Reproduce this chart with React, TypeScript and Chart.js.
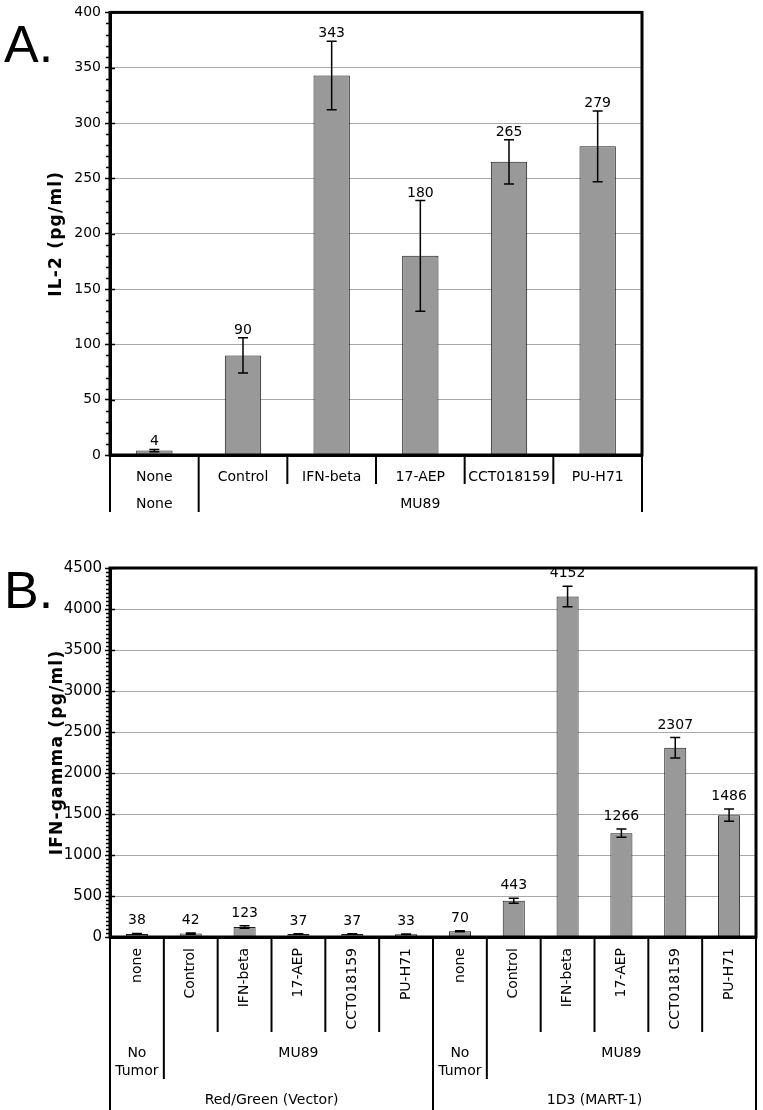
import React, { useEffect, useRef } from "react";
import { Chart, registerables } from "chart.js";

Chart.register(...registerables);

// ---------- Panel A data ----------
const il2Categories = ["None", "Control", "IFN-beta", "17-AEP", "CCT018159", "PU-H71"];
const il2Values = [4, 90, 343, 180, 265, 279];
const il2Errors = [1, 16, 31, 50, 20, 32];
const il2TumorLabels = ["None", "MU89"];
const il2TumorSpans = [1, 5];
const il2YTicks = { min: 0, max: 400, step: 50, minor: 10 };

// ---------- Panel B data ----------
const ifnCategories = [
  "none", "Control", "IFN-beta", "17-AEP", "CCT018159", "PU-H71",
  "none", "Control", "IFN-beta", "17-AEP", "CCT018159", "PU-H71",
];
const ifnValues = [38, 42, 123, 37, 37, 33, 70, 443, 4152, 1266, 2307, 1486];
const ifnErrors = [5, 8, 15, 4, 4, 3, 5, 30, 125, 50, 125, 75];
const ifnTumorLabels = ["No\nTumor", "MU89", "No\nTumor", "MU89"];
const ifnTumorSpans = [1, 5, 1, 5];
const ifnEffectorLabels = ["Red/Green (Vector)", "1D3 (MART-1)"];
const ifnEffectorSpans = [6, 6];
const ifnYTicks = { min: 0, max: 4500, step: 500, minor: 50 };

const FONT = "'DejaVu Sans', Verdana, sans-serif";

type Spec = {
  width: number;
  height: number;
  plotTop: number;
  plotBottom: number;
  plotRight: number;
  axisWidth: number;
  labels: string[];
  values: number[];
  errors: number[];
  ticks: { min: number; max: number; step: number; minor: number };
  tickFont: number;
  tickPad: number;
  yTitle: string;
  yTitleX: number;
  panel: string;
  panelBaseline: number;
  labelGap: number;
  capHalf: number;
  drawTable: (chart: any, ctx: CanvasRenderingContext2D) => void;
};

function cumulative(spans: number[]): number[] {
  const out = [0];
  spans.forEach((s) => out.push(out[out.length - 1] + s));
  return out;
}

function vline(ctx: CanvasRenderingContext2D, x: number, y0: number, y1: number) {
  ctx.beginPath();
  ctx.moveTo(x, y0);
  ctx.lineTo(x, y1);
  ctx.stroke();
}

function drawTableA(chart: any, ctx: CanvasRenderingContext2D) {
  const area = chart.chartArea;
  const n = il2Categories.length;
  const colW = (area.right - area.left) / n;
  const groupB = cumulative(il2TumorSpans);
  ctx.save();
  ctx.strokeStyle = "#000";
  ctx.lineWidth = 2;
  for (let i = 0; i <= n; i++) {
    const x = area.left + i * colW;
    const full = groupB.includes(i);
    vline(ctx, x, area.bottom, full ? 512 : 484);
  }
  ctx.fillStyle = "#000";
  ctx.font = `14px ${FONT}`;
  ctx.textAlign = "center";
  ctx.textBaseline = "alphabetic";
  il2Categories.forEach((c, i) => {
    ctx.fillText(c, area.left + (i + 0.5) * colW, 481);
  });
  il2TumorLabels.forEach((t, g) => {
    const cx = area.left + ((groupB[g] + groupB[g + 1]) / 2) * colW;
    ctx.fillText(t, cx, 508);
  });
  ctx.restore();
}

function drawTableB(chart: any, ctx: CanvasRenderingContext2D) {
  const area = chart.chartArea;
  const n = ifnCategories.length;
  const colW = (area.right - area.left) / n;
  const tumorB = cumulative(ifnTumorSpans);
  const effB = cumulative(ifnEffectorSpans);
  const H = chart.height;
  ctx.save();
  ctx.strokeStyle = "#000";
  ctx.lineWidth = 2;
  for (let i = 0; i <= n; i++) {
    const x = area.left + i * colW;
    let end = 512;
    if (effB.includes(i)) end = H;
    else if (tumorB.includes(i)) end = 559;
    vline(ctx, x, area.bottom, end);
  }
  ctx.fillStyle = "#000";
  ctx.font = `14px ${FONT}`;
  // rotated category labels
  ifnCategories.forEach((c, i) => {
    ctx.save();
    ctx.translate(area.left + (i + 0.5) * colW, 428);
    ctx.rotate(-Math.PI / 2);
    ctx.textAlign = "right";
    ctx.textBaseline = "middle";
    ctx.fillText(c, 0, 0);
    ctx.restore();
  });
  ctx.textAlign = "center";
  ctx.textBaseline = "middle";
  ifnTumorLabels.forEach((t, g) => {
    const cx = area.left + ((tumorB[g] + tumorB[g + 1]) / 2) * colW;
    t.split("\n").forEach((line, k) => ctx.fillText(line, cx, 533 + k * 18));
  });
  ifnEffectorLabels.forEach((t, g) => {
    const cx = area.left + ((effB[g] + effB[g + 1]) / 2) * colW;
    ctx.fillText(t, cx, 580);
  });
  ctx.restore();
}

function buildChart(canvas: HTMLCanvasElement, spec: Spec) {
  const deco = {
    id: "deco-" + spec.panel,
    afterDatasetsDraw(chart: any) {
      const ctx: CanvasRenderingContext2D = chart.ctx;
      const y = chart.scales.y;
      const meta = chart.getDatasetMeta(0);
      ctx.save();
      ctx.strokeStyle = "#000";
      ctx.lineWidth = 1.5;
      ctx.fillStyle = "#000";
      ctx.font = `14px ${FONT}`;
      ctx.textAlign = "center";
      ctx.textBaseline = "alphabetic";
      spec.values.forEach((v, i) => {
        const x = meta.data[i].x;
        const e = spec.errors[i];
        const yt = y.getPixelForValue(v + e);
        const yb = y.getPixelForValue(Math.max(0, v - e));
        ctx.beginPath();
        ctx.moveTo(x, yt);
        ctx.lineTo(x, yb);
        ctx.moveTo(x - spec.capHalf, yt);
        ctx.lineTo(x + spec.capHalf, yt);
        ctx.moveTo(x - spec.capHalf, yb);
        ctx.lineTo(x + spec.capHalf, yb);
        ctx.stroke();
        ctx.fillText(String(v), x, yt - spec.labelGap);
      });
      ctx.restore();
    },
    afterDraw(chart: any) {
      const ctx: CanvasRenderingContext2D = chart.ctx;
      const area = chart.chartArea;
      const y = chart.scales.y;
      ctx.save();
      // frame
      ctx.strokeStyle = "#000";
      ctx.lineWidth = 3;
      ctx.strokeRect(area.left, area.top, area.right - area.left, area.bottom - area.top);
      // minor and inner major ticks
      ctx.lineWidth = 1.5;
      const t = spec.ticks;
      for (let v = t.min; v <= t.max + 1e-9; v += t.minor) {
        const py = Math.round(y.getPixelForValue(v)) + 0.5;
        const major = Math.abs(v / t.step - Math.round(v / t.step)) < 1e-6;
        ctx.beginPath();
        if (major) {
          ctx.moveTo(area.left, py);
          ctx.lineTo(area.left + 5, py);
        } else {
          ctx.moveTo(area.left - 4, py);
          ctx.lineTo(area.left, py);
        }
        ctx.stroke();
      }
      // y title
      ctx.fillStyle = "#000";
      ctx.save();
      ctx.translate(spec.yTitleX, (area.top + area.bottom) / 2);
      ctx.rotate(-Math.PI / 2);
      ctx.font = `bold 17px ${FONT}`;
      (ctx as any).letterSpacing = "1.2px";
      ctx.textAlign = "center";
      ctx.textBaseline = "middle";
      ctx.fillText(spec.yTitle, 0, 0);
      ctx.restore();
      // panel letter
      ctx.font = `52px 'Liberation Sans', Arial, sans-serif`;
      ctx.textAlign = "left";
      ctx.textBaseline = "alphabetic";
      ctx.fillText(spec.panel, 4, spec.panelBaseline);
      // category table
      spec.drawTable(chart, ctx);
      ctx.restore();
    },
  };

  return new Chart(canvas, {
    type: "bar",
    data: {
      labels: spec.labels,
      datasets: [
        {
          data: spec.values,
          backgroundColor: "#999999",
          borderColor: "#1a1a1a",
          borderWidth: 1,
          barPercentage: 0.41,
          categoryPercentage: 1,
        },
      ],
    },
    options: {
      animation: false,
      responsive: false,
      devicePixelRatio: 1,
      layout: {
        padding: { top: spec.plotTop, right: spec.width - spec.plotRight, left: 0, bottom: 0 },
      },
      plugins: {
        legend: { display: false },
        tooltip: { enabled: false },
        title: { display: false },
      },
      scales: {
        x: {
          grid: { display: false, drawTicks: false },
          ticks: { display: false },
          border: { display: true, color: "#000", width: 3 },
          afterFit: (s: any) => {
            s.height = spec.height - spec.plotBottom;
          },
        },
        y: {
          min: spec.ticks.min,
          max: spec.ticks.max,
          ticks: {
            stepSize: spec.ticks.step,
            color: "#000",
            font: { family: FONT, size: spec.tickFont },
            padding: spec.tickPad,
            callback: (v: any) => String(v),
          },
          grid: {
            color: "#a8a8a8",
            lineWidth: 1,
            tickColor: "#000",
            tickWidth: 1.5,
            tickLength: 5,
          },
          border: { color: "#000", width: 3 },
          afterFit: (s: any) => {
            s.width = spec.axisWidth;
          },
        },
      },
    },
    plugins: [deco],
  } as any);
}

const specA: Spec = {
  width: 763,
  height: 520,
  plotTop: 10,
  plotBottom: 455,
  plotRight: 642,
  axisWidth: 110,
  labels: il2Categories,
  values: il2Values,
  errors: il2Errors,
  ticks: il2YTicks,
  tickFont: 14,
  tickPad: 4,
  yTitle: "IL-2 (pg/ml)",
  yTitleX: 57,
  panel: "A.",
  panelBaseline: 62,
  labelGap: 4,
  capHalf: 5,
  drawTable: drawTableA,
};

const specB: Spec = {
  width: 763,
  height: 590,
  plotTop: 48,
  plotBottom: 417,
  plotRight: 756,
  axisWidth: 110,
  labels: ifnCategories,
  values: ifnValues,
  errors: ifnErrors,
  ticks: ifnYTicks,
  tickFont: 15,
  tickPad: 3,
  yTitle: "IFN-gamma (pg/ml)",
  yTitleX: 58,
  panel: "B.",
  panelBaseline: 88,
  labelGap: 9,
  capHalf: 5,
  drawTable: drawTableB,
};

export default function App() {
  const refA = useRef<HTMLCanvasElement>(null);
  const refB = useRef<HTMLCanvasElement>(null);
  useEffect(() => {
    const a = buildChart(refA.current as HTMLCanvasElement, specA);
    const b = buildChart(refB.current as HTMLCanvasElement, specB);
    return () => {
      a.destroy();
      b.destroy();
    };
  }, []);
  return (
    <div style={{ position: "absolute", left: 0, top: 0, width: 763, height: 1110, background: "#fff" }}>
      <canvas
        ref={refA}
        width={763}
        height={520}
        style={{ position: "absolute", left: 0, top: 0, width: 763, height: 520, display: "block" }}
      />
      <canvas
        ref={refB}
        width={763}
        height={590}
        style={{ position: "absolute", left: 0, top: 520, width: 763, height: 590, display: "block" }}
      />
    </div>
  );
}
